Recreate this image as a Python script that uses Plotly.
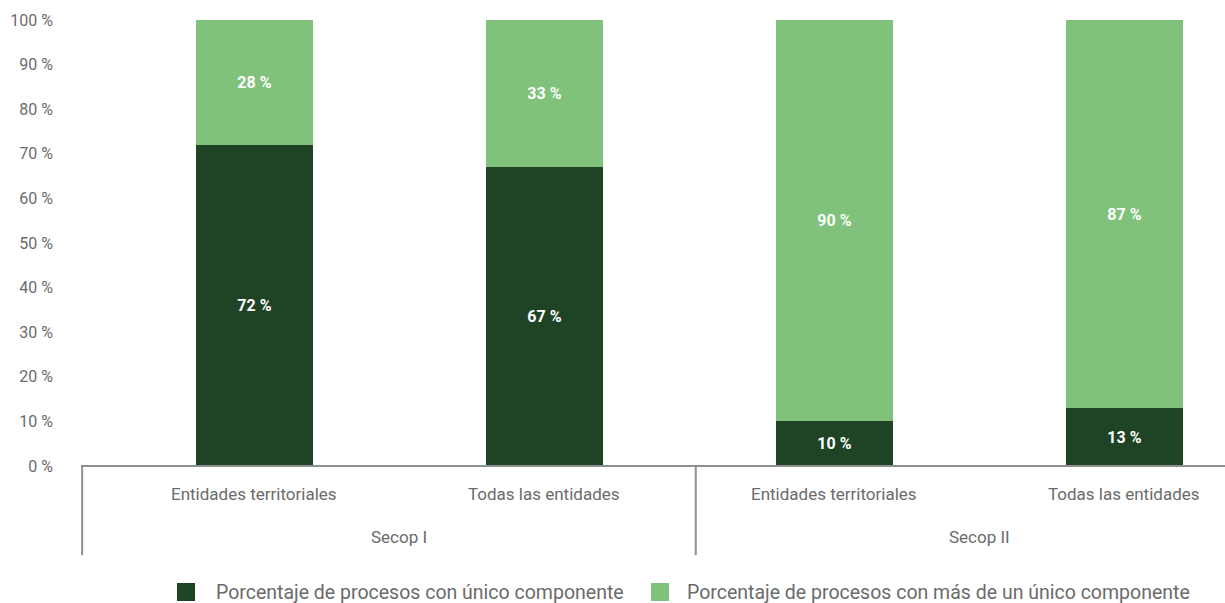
import plotly.graph_objects as go

# Categories and the platform group each belongs to
categories = ["Entidades territoriales", "Todas las entidades",
              "Entidades territoriales", "Todas las entidades"]
groups = ["Secop I", "Secop II"]
group_of_category = [0, 0, 1, 1]

# Share of processes (%)
unico = [72, 67, 10, 13]
mas_de_uno = [28, 33, 90, 87]

series_names = ["Porcentaje de procesos con único componente",
                "Porcentaje de procesos con más de un único componente"]

y_ticks = [0, 10, 20, 30, 40, 50, 60, 70, 80, 90, 100]
y_tick_labels = [f"{v} %" for v in y_ticks]

DARK = "#1f4425"
LIGHT = "#80c27b"
GREY_TEXT = "#6b6b6b"
AXIS_GREY = "#8f8f8f"
FONT = "Roboto"

W, H = 1225, 603
ML, MR, MT, MB = 81, 0, 20, 137
PW, PH = W - ML - MR, H - MT - MB


def px_to_paper(px, py):
    return (px - ML) / PW, (H - MB - py) / PH


x_pos = list(range(len(categories)))
colors = [DARK, LIGHT]

fig = go.Figure()
for name, vals, color in zip(series_names, [unico, mas_de_uno], colors):
    fig.add_trace(go.Bar(
        x=x_pos, y=vals, name=name, marker=dict(color=color, line=dict(width=0)),
        width=0.403, showlegend=False,
        text=[f"{v} %" for v in vals], textposition="inside",
        insidetextanchor="middle",
        textfont=dict(color="white", size=16, family=FONT, weight="bold"),
        hoverinfo="skip",
    ))

fig.update_layout(
    barmode="stack",
    width=W, height=H,
    margin=dict(l=ML, r=MR, t=MT, b=MB, autoexpand=False),
    paper_bgcolor="white", plot_bgcolor="white",
    font=dict(family=FONT, color=GREY_TEXT),
    showlegend=False,
    bargap=0,
)

fig.update_xaxes(range=[-0.598, 3.347], showticklabels=False, showgrid=False,
                 zeroline=False, showline=False, fixedrange=True)
fig.update_yaxes(range=[0, 100], tickvals=y_ticks, ticktext=y_tick_labels,
                 showgrid=False, zeroline=False, showline=False,
                 tickfont=dict(size=16, color=GREY_TEXT, family=FONT),
                 ticklabelstandoff=27)

# Category axis line and group separators
fig.add_shape(type="line", xref="paper", yref="paper", x0=0, x1=1, y0=0, y1=0,
              line=dict(color=AXIS_GREY, width=2))
for xp in [-0.594, 1.522]:
    fig.add_shape(type="line", xref="x", yref="paper", x0=xp, x1=xp,
                  y0=0, y1=-0.2, line=dict(color=AXIS_GREY, width=2))

# Category labels
for i, c in enumerate(categories):
    fig.add_annotation(x=i, y=-0.063, xref="x", yref="paper", text=c,
                       showarrow=False, yanchor="middle",
                       font=dict(size=17, color=GREY_TEXT, family=FONT))
# Group labels
for g_idx, g in enumerate(groups):
    members = [i for i, gi in enumerate(group_of_category) if gi == g_idx]
    xc = sum(members) / len(members)
    fig.add_annotation(x=xc, y=-0.159, xref="x", yref="paper", text=g,
                       showarrow=False, yanchor="middle",
                       font=dict(size=17, color=GREY_TEXT, family=FONT))

# Legend: colour square followed by series name
legend_items = [(177, 214), (651, 685)]  # (square left, text left) in px
for (sq_left, txt_left), name, color in zip(legend_items, series_names, colors):
    x0, y0 = px_to_paper(sq_left, 601)
    x1, y1 = px_to_paper(sq_left + 18, 583)
    fig.add_shape(type="rect", xref="paper", yref="paper",
                  x0=x0, x1=x1, y0=y0, y1=y1,
                  fillcolor=color, line=dict(width=0))
    tx, ty = px_to_paper(txt_left, 592)
    fig.add_annotation(x=tx, y=ty, xref="paper", yref="paper", text=name,
                       showarrow=False, xanchor="left", yanchor="middle",
                       font=dict(size=19.5, color=GREY_TEXT, family=FONT))

fig.write_html("out.html")
